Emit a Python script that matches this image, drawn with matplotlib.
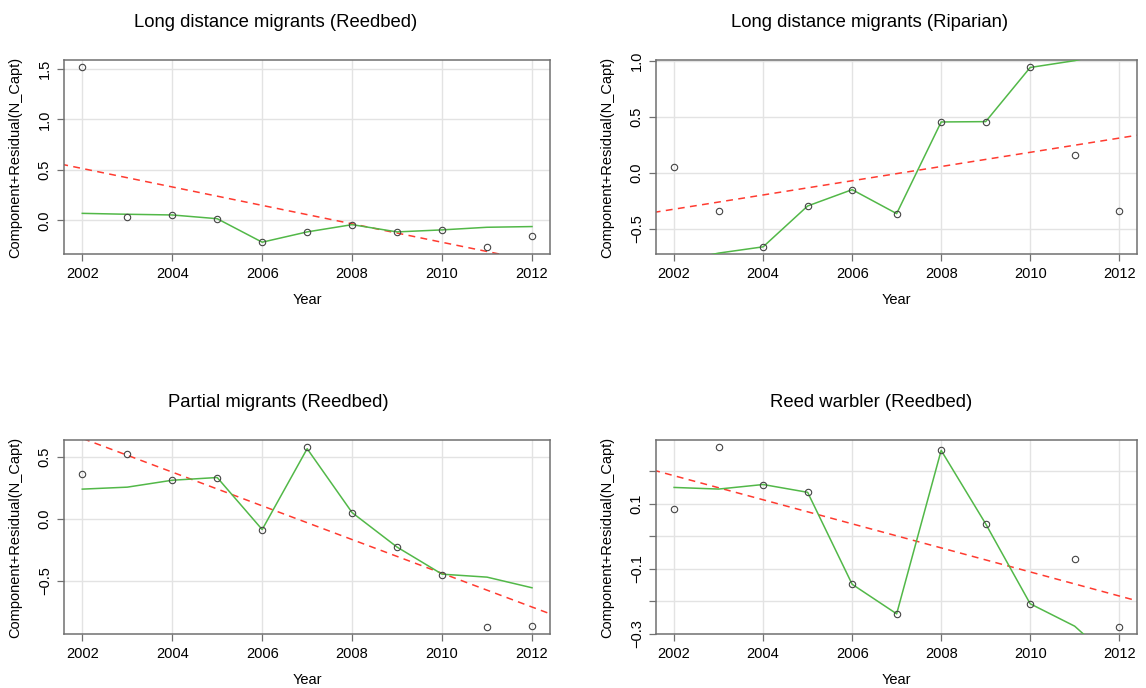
import numpy as np
import matplotlib
matplotlib.use("Agg")
import matplotlib.pyplot as plt

plt.rcParams['font.family'] = ['Liberation Sans', 'DejaVu Sans']

years = np.arange(2002, 2013)

# partial residuals
ld_reedbed = [1.516, 0.036, 0.053, 0.016, -0.217, -0.115, -0.043, -0.115, -0.095, -0.263, -0.151]
ld_riparian = [0.053, -0.335, -0.659, -0.294, -0.148, -0.362, 0.457, 0.460, 0.944, 0.166, -0.335]
partial_reedbed = [0.361, 0.527, 0.313, 0.335, -0.086, 0.578, 0.051, -0.228, -0.450, -0.873, -0.865]
reedwarbler = [0.085, 0.273, 0.159, 0.135, -0.148, -0.239, 0.264, 0.038, -0.208, -0.069, -0.279]

# smoother (green) values at each year
ld_reedbed_smooth = [0.069, 0.060, 0.053, 0.016, -0.217, -0.115, -0.043, -0.115, -0.095, -0.069, -0.062]
ld_riparian_smooth = [-0.80, -0.715, -0.659, -0.294, -0.148, -0.362, 0.457, 0.460, 0.944, 1.005, 1.10]
partial_reedbed_smooth = [0.241, 0.257, 0.313, 0.335, -0.086, 0.568, 0.051, -0.228, -0.447, -0.471, -0.557]
reedwarbler_smooth = [0.150, 0.145, 0.159, 0.135, -0.148, -0.239, 0.264, 0.038, -0.208, -0.277, -0.40]

titles = ["Long distance migrants (Reedbed)", "Long distance migrants (Riparian)",
          "Partial migrants (Reedbed)", "Reed warbler (Reedbed)"]
yticks = [[0.0, 0.5, 1.0, 1.5],
          [-0.5, 0.0, 0.5, 1.0],
          [-0.5, 0.0, 0.5],
          [-0.3, -0.2, -0.1, 0.0, 0.1, 0.2]]
ylabels = [["0.0", "0.5", "1.0", "1.5"],
           ["\u22120.5", "0.0", "0.5", "1.0"],
           ["\u22120.5", "0.0", "0.5"],
           ["\u22120.3", "", "\u22120.1", "", "0.1", ""]]
xticks = [2002, 2004, 2006, 2008, 2010, 2012]

series = [(ld_reedbed, ld_reedbed_smooth), (ld_riparian, ld_riparian_smooth),
          (partial_reedbed, partial_reedbed_smooth), (reedwarbler, reedwarbler_smooth)]

W, H = 1146, 688
fig = plt.figure(figsize=(W / 100, H / 100), dpi=100)

# axes boxes in pixels: left, top, right, bottom
boxes = [(64.3, 60.3, 550, 254), (656.3, 60.3, 1137, 254),
         (64.3, 440.3, 550, 634), (656.3, 440.3, 1137, 634)]
title_x = [276, 870, 278, 871]

frame_col = '#707070'

for i, (pts, smooth) in enumerate(series):
    l, t, r, b = boxes[i]
    w, h = r - l, b - t
    ax = fig.add_axes([l / W, 1 - b / H, w / W, h / H])
    pts = np.array(pts)

    lo, hi = pts.min(), pts.max()
    pad = 0.04 * (hi - lo)
    ax.set_ylim(lo - pad, hi + pad)
    ax.set_xlim(2001.6, 2012.4)

    ax.set_xticks(xticks)
    ax.set_yticks(yticks[i])
    ax.set_yticklabels(ylabels[i])
    ax.grid(True, color='#e3e3e3', lw=1.0, zorder=0)
    ax.set_axisbelow(True)

    # linear fit of the partial residuals (component line)
    slope, icpt = np.polyfit(years, pts, 1)
    xs = np.array([2001.0, 2013.0])
    ax.plot(xs, icpt + slope * xs, color='#ff3b30', lw=1.1, ls=(0, (4.5, 3.5)), zorder=2)
    ax.plot(years, smooth, color='#52b848', lw=1.1, zorder=3)
    ax.plot(years, pts, 'o', mfc='none', mec='#444444', ms=4.6, mew=0.8, zorder=4)

    for s in ax.spines.values():
        s.set_color(frame_col)
        s.set_linewidth(1.1)
    ax.tick_params(axis='both', length=5, width=0.9, color=frame_col, labelsize=10.5, pad=4)
    ax.tick_params(axis='y', labelrotation=90)
    for lab in ax.get_yticklabels():
        lab.set_verticalalignment('center')

    ax.set_xlabel("Year", fontsize=10.5)
    ax.xaxis.label.set_verticalalignment('center')
    ax.xaxis.set_label_coords(0.5, -46 / h)
    ax.set_ylabel("Component+Residual(N_Capt)", fontsize=10.5)
    ax.yaxis.label.set_verticalalignment('center')
    ax.yaxis.set_label_coords(-(l - (l - 64.3) - 15) / w, 0.5)

    fig.text(title_x[i] / W, 1 - (t - 38) / H, titles[i], ha='center', va='center', fontsize=13.3)

fig.savefig("out.png", dpi=100)
